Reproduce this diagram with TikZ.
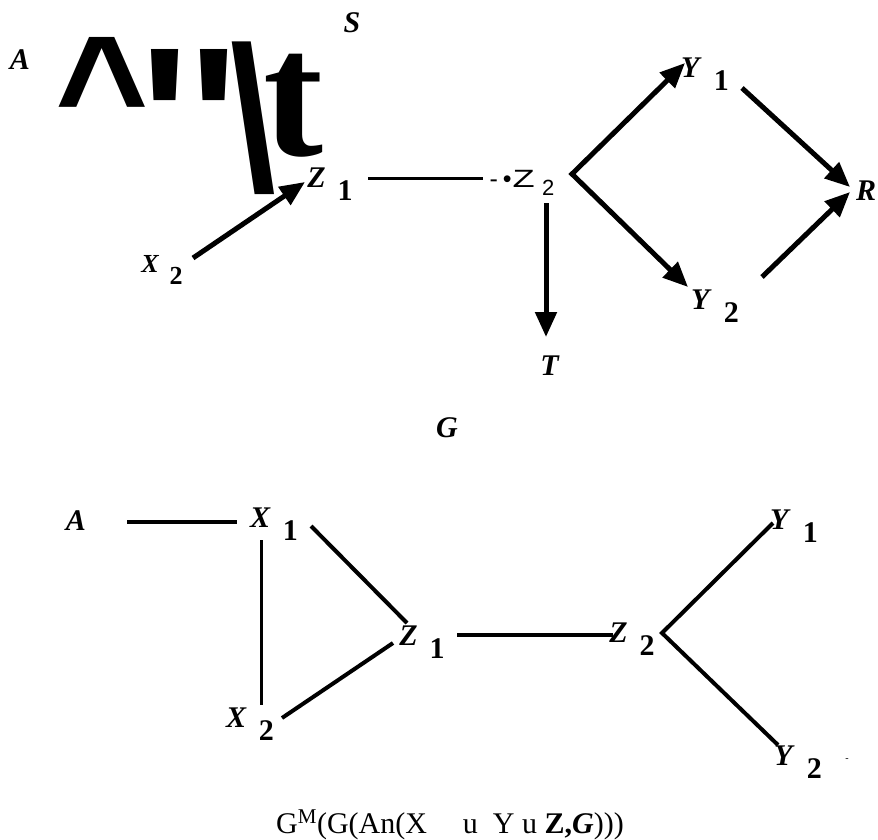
\documentclass[tikz,border=0pt]{standalone}
\usepackage{fontspec}
\setmainfont{Liberation Serif}
\newfontfamily\garblefont{Liberation Sans}
\usepackage{graphicx}
\usetikzlibrary{arrows.meta, positioning, calc}

\newcommand{\vlab}[2]{\textbf{\textit{#1}}\hspace{0.4em}\raisebox{-0.45em}{\textbf{#2}}}

\tikzset{
  lab/.style={inner sep=0pt, font=\fontsize{30}{30}\selectfont},
  arr/.style={line width=5pt, -{Triangle[length=25pt, width=21pt]}},
  edge/.style={line width=4pt},
}

\begin{document}
\begin{tikzpicture}[x=1pt, y=-1pt]
    \useasboundingbox (0,0) rectangle (878,839);

    % --- G: the directed graph
    \node[lab] (gA) at (20,60) {\textbf{\textit{A}}};
    \node[lab] (gS) at (352,23) {\textbf{\textit{S}}};
    \node[inner sep=0pt, anchor=base west] (gJunk) at (55,190)
        {{\garblefont\bfseries\raisebox{43pt}{\fontsize{160}{160}\selectfont\textasciicircum}%
          \hspace{-8pt}\fontsize{205}{205}\selectfont\textquotesingle\textquotesingle%
          \hspace{-8pt}\scalebox{0.8}[1]{\textbackslash}}%
         {\fontsize{180}{180}\selectfont\bfseries\kern-12pt\raisebox{35pt}{t}}};
    \node[lab, font=\fontsize{26}{26}\selectfont] (gX2) at (162,270) {\vlab{X}{2}};
    \node[lab] (gZ1) at (330,184) {\vlab{Z}{1}};
    \node[lab, font=\garblefont\fontsize{25}{25}\selectfont] (gZ2) at (522,183)
        {-\hspace{5pt}\textbullet\hspace{1pt}\scalebox{1.45}[1]{Z}\hspace{0.3em}\raisebox{-0.3em}{\fontsize{22}{22}\selectfont 2}};
    \node[lab] (gT) at (550,366) {\textbf{\textit{T}}};
    \node[lab] (gY1) at (705,74) {\vlab{Y}{1}};
    \node[lab] (gY2) at (715,306) {\vlab{Y}{2}};
    \node[lab] (gR) at (866,191) {\textbf{\textit{R}}};
    \node[lab] (gG) at (447,428) {\textbf{\textit{G}}};
    \coordinate (gK) at ([shift={(50,-9)}]gZ2.center);

    \draw[arr] ([shift={(31,-12)}]gX2.center) -- ([shift={(-25,-2)}]gZ1.center);
    \draw[line width=3pt] ([shift={(38,-6)}]gZ1.center) -- ([shift={(-39,-5)}]gZ2.center);
    \draw[arr] ([shift={(24,20)}]gZ2.center) -- ([shift={(-4,-29)}]gT.center);
    \draw[arr, {Triangle[length=25pt, width=21pt]}-{Triangle[length=25pt, width=21pt]}, line join=miter]
        ([shift={(-20,-11)}]gY1.center) -- (gK) -- ([shift={(-27,-19)}]gY2.center);
    \draw[arr] ([shift={(37,14)}]gY1.center) -- ([shift={(-16,-4)}]gR.center);
    \draw[arr] ([shift={(47,-29)}]gY2.center) -- ([shift={(-16,1)}]gR.center);

    % --- G^M: the moral graph
    \node[lab] (mA) at (76,521) {\textbf{\textit{A}}};
    \node[lab] (mX1) at (274,524) {\vlab{X}{1}};
    \node[lab] (mX2) at (250,724) {\vlab{X}{2}};
    \node[lab] (mZ1) at (422,642) {\vlab{Z}{1}};
    \node[lab] (mZ2) at (632,639) {\vlab{Z}{2}};
    \node[lab] (mY1) at (794,526) {\vlab{Y}{1}};
    \node[lab] (mY2) at (798,762) {\vlab{Y}{2}};
    \node[inner sep=0pt, font=\fontsize{10}{10}\selectfont] (mDash) at (847,760) {-};
    \node[anchor=base, inner sep=0pt, font=\fontsize{30}{30}\selectfont] (mCap) at (450,833)
        {G\textsuperscript{M}(G(An(X\hspace{1.2em}u~~Y u \textbf{Z,\textit{G}})))};
    \coordinate (mK) at ([shift={(30,-6)}]mZ2.center);

    \draw[edge] ([shift={(51,1)}]mA.center) -- ([shift={(-37,-2)}]mX1.center);
    \draw[edge, line width=3pt] ([shift={(-13,16)}]mX1.center) -- ([shift={(11,-19)}]mX2.center);
    \draw[edge] ([shift={(37,2)}]mX1.center) -- ([shift={(-15,-19)}]mZ1.center);
    \draw[edge] ([shift={(32,-6)}]mX2.center) -- ([shift={(-29,1)}]mZ1.center);
    \draw[edge] ([shift={(35,-7)}]mZ1.center) -- ([shift={(-19,-4)}]mZ2.center);
    \draw[edge, line join=miter] ([shift={(-21,-3)}]mY1.center) -- (mK) -- ([shift={(-20,-17)}]mY2.center);
\end{tikzpicture}
\end{document}
